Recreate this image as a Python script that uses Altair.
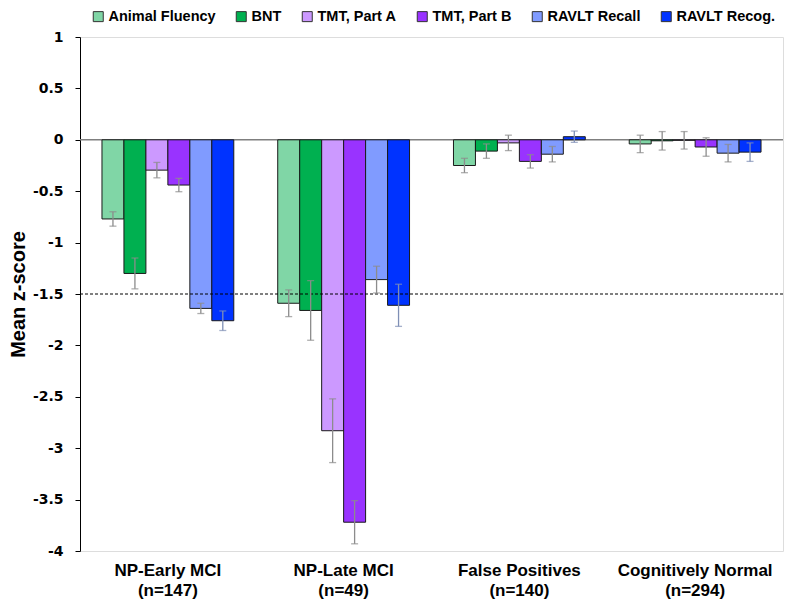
import altair as alt
import pandas as pd

groups = ["NP-Early MCI", "NP-Late MCI", "False Positives", "Cognitively Normal"]
group_n = ["(n=147)", "(n=49)", "(n=140)", "(n=294)"]
tests = ["Animal Fluency", "BNT", "TMT, Part A", "TMT, Part B", "RAVLT Recall", "RAVLT Recog."]
colors = ["#80D6A6", "#00B050", "#CC99FF", "#9933FF", "#809BFF", "#0033FF"]
err_colors = ["#8c8c8c", "#8c8c8c", "#8c8c8c", "#8c8c8c", "#8c8c8c", "#7f8fb5"]

# mean z-scores per test, across groups
mean_af = [-0.77, -1.59, -0.25, -0.04]
mean_bnt = [-1.30, -1.66, -0.11, -0.01]
mean_tmta = [-0.295, -2.83, -0.03, -0.005]
mean_tmtb = [-0.44, -3.72, -0.21, -0.07]
mean_recall = [-1.64, -1.36, -0.14, -0.13]
mean_recog = [-1.76, -1.61, 0.03, -0.12]

# error bar half-widths
err_af = [0.07, 0.13, 0.07, 0.085]
err_bnt = [0.15, 0.29, 0.07, 0.09]
err_tmta = [0.075, 0.31, 0.075, 0.085]
err_tmtb = [0.065, 0.21, 0.065, 0.09]
err_recall = [0.05, 0.13, 0.075, 0.085]
err_recog = [0.095, 0.205, 0.055, 0.09]

threshold = -1.5
y_ticks = [1, 0.5, 0, -0.5, -1, -1.5, -2, -2.5, -3, -3.5, -4]

means = [mean_af, mean_bnt, mean_tmta, mean_tmtb, mean_recall, mean_recog]
errs = [err_af, err_bnt, err_tmta, err_tmtb, err_recall, err_recog]

rows = []
for t, m_list, e_list in zip(tests, means, errs):
    for g, n, m, e in zip(groups, group_n, m_list, e_list):
        rows.append({"group": g + "|" + n, "test": t, "mean": m, "lo": m - e, "hi": m + e})
df = pd.DataFrame(rows)
group_labels = [g + "|" + n for g, n in zip(groups, group_n)]

x_enc = alt.X("group:N", sort=group_labels,
              scale=alt.Scale(paddingInner=0.25, paddingOuter=0.125),
              axis=alt.Axis(title=None, labelExpr="split(datum.label, '|')", labelAngle=0,
                            domain=False, ticks=False, labelPadding=11,
                            labelFont="Liberation Sans", labelFontSize=17,
                            labelFontWeight="bold", labelColor="black", labelLineHeight=20))
xo_enc = alt.XOffset("test:N", sort=tests, scale=alt.Scale(paddingInner=0, paddingOuter=0))

y_scale = alt.Scale(domain=[-4, 1], nice=False, zero=False)
y_axis = alt.Axis(title="Mean z-score", values=y_ticks, labelExpr="'' + datum.value",
                  grid=False, domainColor="black", tickColor="black", tickSize=5,
                  labelFont="DejaVu Sans", labelFontSize=14, labelFontWeight="bold",
                  labelColor="black", labelPadding=12,
                  titleFont="Liberation Sans", titleFontSize=20, titleFontWeight="bold",
                  titleColor="black", titlePadding=4)

base = alt.Chart(df)

bars = base.mark_bar(stroke="#1a1a1a", strokeWidth=1).encode(
    x=x_enc,
    xOffset=xo_enc,
    y=alt.Y("mean:Q", scale=y_scale, axis=y_axis),
    y2=alt.datum(0),
    color=alt.Color("test:N", sort=tests,
                    scale=alt.Scale(domain=tests, range=colors),
                    legend=alt.Legend(title=None, orient="none", direction="horizontal",
                                      legendX=11, legendY=-28, symbolType="square",
                                      symbolSize=100, symbolStrokeColor="#333333",
                                      symbolStrokeWidth=1, labelFont="Liberation Sans",
                                      labelFontSize=14.5, labelFontWeight="bold",
                                      labelColor="black", columnPadding=18,
                                      labelOffset=3)),
)

zero_line = alt.Chart(pd.DataFrame({"v": [0]})).mark_rule(color="#7f7f7f", strokeWidth=1.5).encode(
    y=alt.Y("v:Q", scale=y_scale)
)

err_color = alt.Color("test:N", sort=tests, scale=alt.Scale(domain=tests, range=err_colors), legend=None)

err_rule = base.mark_rule(strokeWidth=1.3).encode(
    x=x_enc, xOffset=xo_enc,
    y=alt.Y("lo:Q", scale=y_scale), y2="hi:Q",
    color=err_color,
)
cap_lo = base.mark_tick(thickness=1.3, size=7).encode(
    x=x_enc, xOffset=xo_enc, y=alt.Y("lo:Q", scale=y_scale), color=err_color,
)
cap_hi = base.mark_tick(thickness=1.3, size=7).encode(
    x=x_enc, xOffset=xo_enc, y=alt.Y("hi:Q", scale=y_scale), color=err_color,
)

dash = alt.Chart(pd.DataFrame({"v": [threshold]})).mark_rule(
    color="black", strokeWidth=1, strokeDash=[3, 2]).encode(
    y=alt.Y("v:Q", scale=y_scale)
)

errs_layer = alt.layer(err_rule, cap_lo, cap_hi).resolve_scale(color="independent")

chart = alt.layer(zero_line, bars, dash, errs_layer).resolve_scale(color="independent").properties(
    width=703, height=514,
    autosize=alt.AutoSizeParams(type="none"),
    padding={"left": 72, "top": 29, "right": 5, "bottom": 48},
).configure_view(stroke="#404040", strokeWidth=1.3).configure(background="white")

chart.save("out.html", embed_options={"renderer": "svg", "actions": False})
